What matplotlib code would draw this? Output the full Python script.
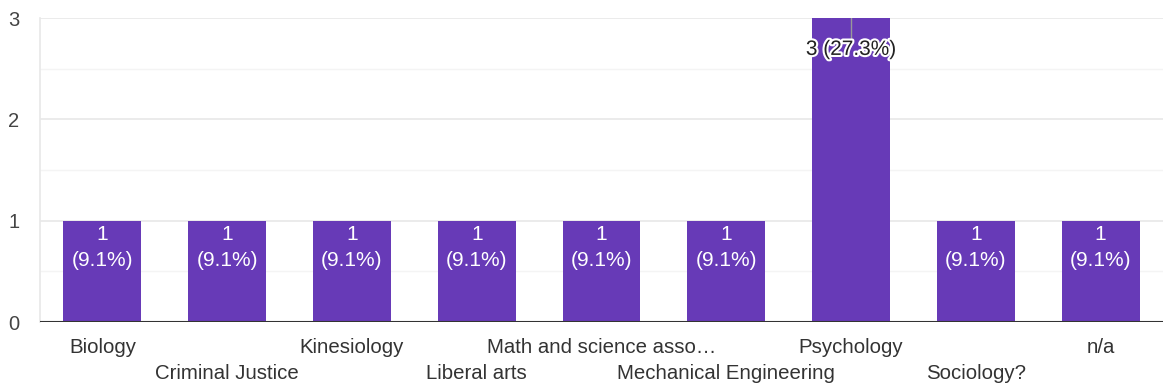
import numpy as np
import matplotlib.pyplot as plt
import matplotlib.patheffects as pe

plt.rcParams['font.family'] = ['Liberation Sans', 'DejaVu Sans']

categories = ["Biology", "Criminal Justice", "Kinesiology", "Liberal arts",
              "Math and science asso\u2026", "Mechanical Engineering",
              "Psychology", "Sociology?", "n/a"]
counts = [1, 1, 1, 1, 1, 1, 3, 1, 1]
pct_labels = ["9.1%", "9.1%", "9.1%", "9.1%", "9.1%", "9.1%", "27.3%", "9.1%", "9.1%"]

bar_color = '#673ab7'
text_gray = '#333333'

fig = plt.figure(figsize=(11.63, 3.88), dpi=100)
ax = fig.add_axes([40 / 1163, 1 - 322 / 388, 1123 / 1163, 304 / 388])

x = np.arange(len(categories))
ax.bar(x, counts, width=0.625, color=bar_color, zorder=3)

ax.set_xlim(-0.5, len(categories) - 0.5)
ax.set_ylim(0, 3)

# grid lines
for v in [1, 2, 3]:
    ax.axhline(v, color='#e8e8e8', lw=1.2, zorder=1)
for v in [0.5, 1.5, 2.5]:
    ax.axhline(v, color='#f4f4f4', lw=1.0, zorder=1)
ax.axhline(0, color='#333333', lw=1.5, zorder=4)

for s in ['top', 'right', 'bottom']:
    ax.spines[s].set_visible(False)
ax.spines['left'].set_color('#e8e8e8')
ax.spines['left'].set_linewidth(1.2)

ax.set_yticks([0, 1, 2, 3])
ax.tick_params(axis='y', length=0, labelsize=14.5, labelcolor='#444444', pad=15)
ax.set_xticks([])

# staggered category labels
for i, name in enumerate(categories):
    yoff = -0.085 if i % 2 == 0 else -0.17
    ax.text(i, yoff, name, transform=ax.get_xaxis_transform(), ha='center',
            va='center', fontsize=14.7, color=text_gray)

# value labels
for i, (c, p) in enumerate(zip(counts, pct_labels)):
    if c == max(counts):
        ax.plot([i, i], [c, c - 0.2], color='#999999', lw=1, zorder=5)
        ax.text(i, c - 0.31, f"{c} ({p})", ha='center', va='center',
                fontsize=15, color='#222222', zorder=6,
                path_effects=[pe.withStroke(linewidth=3, foreground='white')])
    else:
        ax.text(i, c - 0.14, f"{c}", ha='center', va='center',
                fontsize=15, color='white', zorder=6)
        ax.text(i, c - 0.39, f"({p})", ha='center', va='center',
                fontsize=15, color='white', zorder=6)

fig.savefig('out.png', dpi=100)
